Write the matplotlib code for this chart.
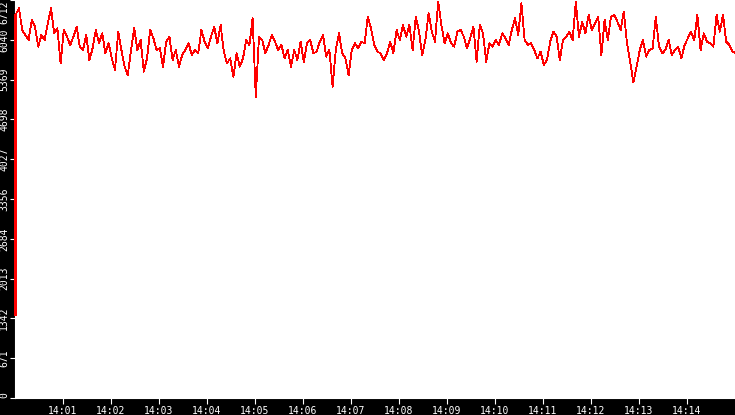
import numpy as np
import matplotlib
matplotlib.use("Agg")
import matplotlib.pyplot as plt

start_values = [1400, 6460]
trace_values = [
    6571, 6206, 6122, 6037, 6375, 6262, 5925, 6122, 6037, 6319, 6571, 6150, 6234,
    5644, 6206, 6094, 5953, 6094, 6262, 5925, 5869, 6122, 5700, 5897, 6206, 5981,
    6150, 5813, 5981, 5728, 5532, 6178, 5869, 5588, 5447, 5869, 6234,
    5869, 6037, 5504, 5728, 6206, 6066, 5869, 5897, 5588, 6009, 6094, 5700, 5869,
    5588, 5785, 5869, 5981, 5785, 5869, 5813, 6206, 6009, 5897, 6094, 6262, 5981,
    6290, 5841, 5644, 5728, 5419, 5813, 5588, 5728, 6037, 5953, 6403,
    5080, 6094, 6037, 5813, 5953, 6122, 6009, 5869, 5953, 5728, 5869, 5588, 5869,
    5700, 6009, 5672, 5981, 6037, 5813, 5841, 6009, 6122, 5756, 5869, 5250, 5869,
    6150, 5813, 5728, 5447, 5869, 5981, 5897, 6009, 5981, 6431, 6234, 5953,
    5841, 5813, 5700, 5813, 6009, 5813, 6206, 6037, 6290, 6094, 6290, 5869, 6431,
    6178, 5785, 6037, 6487, 6178, 6009, 6684, 6290, 5981, 6150, 5981, 5925, 6178,
    6206, 6094, 5897, 6066, 6262, 5672, 6290, 6150, 5672, 5981, 5925, 6037,
    5953, 6150, 6066, 5953, 6206, 6403, 6122, 6656, 6037, 5953, 5981, 5869, 5728,
    5841, 5616, 5700, 6009, 6178, 6094, 5700, 6037, 6094, 6178, 6037, 6684, 6094,
    6347, 6150, 6459, 6206, 6319, 6431, 5785, 6375, 6037, 6431, 6459,
    6347, 6206, 6515, 5981, 5672, 5320, 5588, 5869, 6037, 5756, 5869, 5897, 6431,
    5925, 5813, 5869, 6037, 5785, 5869, 5925, 5728, 5953, 6066, 6178, 6037, 6459,
    5869, 6150, 6009, 5981, 5925, 6459, 6178, 6459, 6009, 5953, 5841, 5813,
]
start_times = [0.6, 0.6]
sample_step = 4  # seconds between readings
trace_times = 5 + sample_step * np.arange(len(trace_values))

times = np.concatenate([start_times[1:], trace_times])
values = np.concatenate([start_values[1:], trace_values])

y_ticks = [0, 671, 1342, 2013, 2684, 3356, 4027, 4698, 5369, 6040, 6712]
x_ticks = [60 * m for m in range(1, 15)]
x_labels = ["14:%02d" % m for m in range(1, 15)]

W, H = 735, 415
fig = plt.figure(figsize=(W / 100, H / 100), dpi=100, facecolor="black")
ax = fig.add_axes([15 / W, 17 / H, 720 / W, 398 / H], facecolor="white")

# initial jump drawn on its own so it stays a solid 1px column
ax.plot(start_times, start_values, color="#ff0000", linewidth=0.8,
        antialiased=False, zorder=4, clip_on=False, solid_capstyle="butt")
ax.plot(times, values, color="#ff0000", linewidth=0.6, antialiased=False,
        zorder=3, clip_on=False)

ax.set_xlim(0, 900)
ax.set_ylim(0, 6712)

for side in ["top", "right"]:
    ax.spines[side].set_visible(False)
for side in ["left", "bottom"]:
    ax.spines[side].set_color("white")
    ax.spines[side].set_linewidth(0.8)
    ax.spines[side].set_zorder(2)

font = {"family": "DejaVu Sans Mono", "size": 7}
ax.set_xticks(x_ticks)
ax.set_xticklabels(x_labels, color="white", fontdict=font)
ax.set_yticks(y_ticks)
ylabels = ax.set_yticklabels([str(v) for v in y_ticks], color="white",
                             fontdict=font, rotation=90, va="center")
ylabels[-1].set_va("top")
ylabels[0].set_va("bottom")
ax.tick_params(axis="x", colors="white", length=4.5, width=0.8, pad=1.0)
ax.tick_params(axis="y", colors="white", length=3.6, width=0.8, pad=0.6)

fig.savefig("out.png", dpi=100, facecolor="black")
